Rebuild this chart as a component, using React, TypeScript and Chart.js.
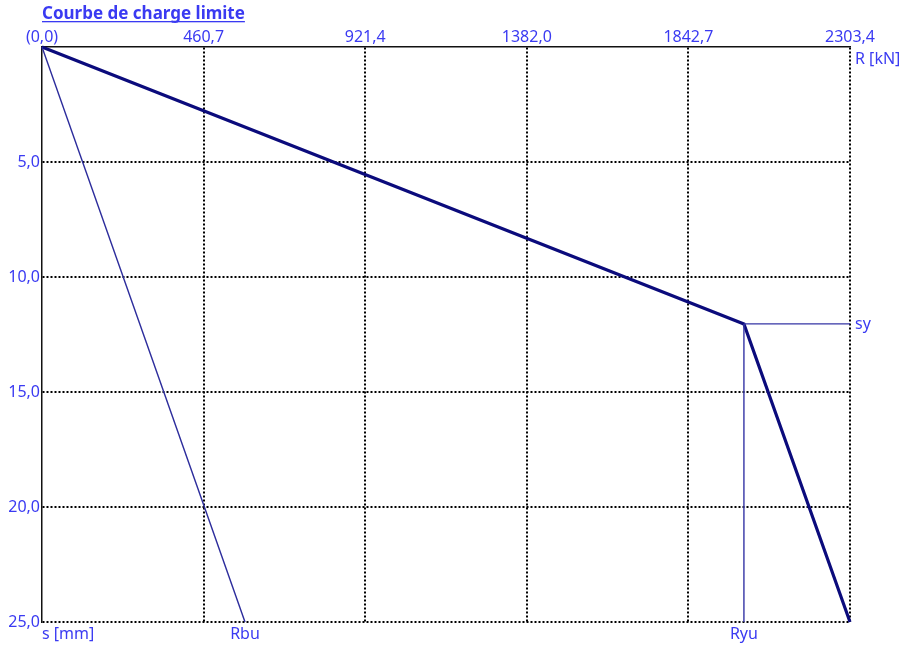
import React, { useEffect, useRef } from "react";
import { Chart, registerables } from "chart.js";

Chart.register(...registerables);

const X_MAX = 2303.4;
const Y_MAX = 25;
const X_TICKS = [0, 460.68, 921.36, 1382.04, 1842.72, 2303.4];
const X_TICK_LABELS = ["(0,0)", "460,7", "921,4", "1382,0", "1842,7", "2303,4"];
const Y_TICKS = [0, 5, 10, 15, 20, 25];
const Y_TICK_LABELS = ["", "5,0", "10,0", "15,0", "20,0", "25,0"];

const RYU = 2001;
const RBU = 578.7;
const SY = 12.04;

// main limit-load curve (R, s)
const CURVE_R = [0, RYU, X_MAX];
const CURVE_S = [0, SY, Y_MAX];
// Rbu line
const RBU_R = [0, RBU];
const RBU_S = [0, Y_MAX];
// vertical at Ryu
const VERT_R = [RYU, RYU];
const VERT_S = [SY, Y_MAX];
// horizontal at sy
const HOR_R = [RYU, X_MAX];
const HOR_S = [SY, SY];

const TEXT_COLOR = "#3a3af2";
const FONT_FAMILY = "'Noto Sans', 'Open Sans', sans-serif";

const pts = (xs: number[], ys: number[]) => xs.map((x, i) => ({ x, y: ys[i] }));

const labelsPlugin = {
  id: "labelsPlugin",
  afterDraw(chart: any) {
    const { ctx, chartArea, scales } = chart;
    const xs = scales.x;
    const ys = scales.y;
    ctx.save();
    ctx.fillStyle = TEXT_COLOR;
    // title
    ctx.font = `bold 17px ${FONT_FAMILY}`;
    ctx.textAlign = "left";
    ctx.textBaseline = "alphabetic";
    const title = "Courbe de charge limite";
    ctx.fillText(title, chartArea.left, 19);
    const w = ctx.measureText(title).width;
    ctx.fillRect(chartArea.left, 21, w, 1.3);
    // annotations
    ctx.font = `16px ${FONT_FAMILY}`;
    ctx.textBaseline = "middle";
    ctx.textAlign = "left";
    ctx.fillText("R [kN]", chartArea.right + 5, chartArea.top + 12);
    ctx.fillText("sy", chartArea.right + 5, ys.getPixelForValue(SY) + 1);
    ctx.fillText("s [mm]", chartArea.left, chartArea.bottom + 12);
    ctx.textAlign = "center";
    ctx.fillText("Rbu", xs.getPixelForValue(RBU), chartArea.bottom + 12);
    ctx.fillText("Ryu", xs.getPixelForValue(RYU), chartArea.bottom + 12);
    ctx.restore();
  },
};

export default function App() {
  const ref = useRef<HTMLCanvasElement | null>(null);
  useEffect(() => {
    document.body.style.margin = "0";
    const canvas = ref.current;
    if (!canvas) return;
    const chart = new Chart(canvas, {
      type: "scatter",
      data: {
        datasets: [
          {
            data: pts(RBU_R, RBU_S),
            showLine: true,
            borderColor: "#2c2c9c",
            borderWidth: 1.4,
            pointRadius: 0,
            clip: false,
          } as any,
          {
            data: pts(VERT_R, VERT_S),
            showLine: true,
            borderColor: "#3535a5",
            borderWidth: 1.4,
            pointRadius: 0,
            clip: false,
          },
          {
            data: pts(HOR_R, HOR_S),
            showLine: true,
            borderColor: "#3535a5",
            borderWidth: 1.4,
            pointRadius: 0,
            clip: false,
          },
          {
            data: pts(CURVE_R, CURVE_S),
            showLine: true,
            borderColor: "#0b0b7c",
            borderWidth: 3.2,
            pointRadius: 0,
            clip: false,
          },
        ],
      },
      options: {
        responsive: false,
        animation: false,
        devicePixelRatio: 1,
        layout: { padding: { left: 0, top: 0, right: 57, bottom: 27 } },
        plugins: {
          legend: { display: false },
          tooltip: { enabled: false },
          title: { display: false },
        },
        scales: {
          x: {
            type: "linear",
            position: "top",
            min: 0,
            max: X_MAX,
            afterBuildTicks: (s: any) => {
              s.ticks = X_TICKS.map((v) => ({ value: v }));
            },
            afterFit: (s: any) => {
              s.height = 47;
            },
            ticks: {
              autoSkip: false,
              maxRotation: 0,
              padding: 0,
              color: TEXT_COLOR,
              font: { family: FONT_FAMILY, size: 16 },
              callback: (_v: any, i: number) => X_TICK_LABELS[i],
            },
            grid: {
              drawTicks: false,
              lineWidth: 2,
              color: (c: any) => (c.index === 0 ? "rgba(0,0,0,0)" : "#000"),
            },
            border: { display: true, color: "#111", width: 1.5, dash: [2, 2] },
          },
          y: {
            type: "linear",
            reverse: true,
            min: 0,
            max: Y_MAX,
            afterBuildTicks: (s: any) => {
              s.ticks = Y_TICKS.map((v) => ({ value: v }));
            },
            afterFit: (s: any) => {
              s.width = 42;
            },
            ticks: {
              autoSkip: false,
              padding: 2,
              color: TEXT_COLOR,
              font: { family: FONT_FAMILY, size: 16 },
              callback: (_v: any, i: number) => Y_TICK_LABELS[i],
            },
            grid: {
              drawTicks: false,
              lineWidth: 2,
              color: (c: any) => (c.index === 0 ? "rgba(0,0,0,0)" : "#000"),
            },
            border: { display: true, color: "#111", width: 1.5, dash: [2, 2] },
          },
        },
      },
      plugins: [labelsPlugin],
    });
    return () => chart.destroy();
  }, []);
  return (
    <div style={{ width: 907, height: 649, background: "#fff" }}>
      <canvas ref={ref} width={907} height={649} style={{ display: "block" }} />
    </div>
  );
}
